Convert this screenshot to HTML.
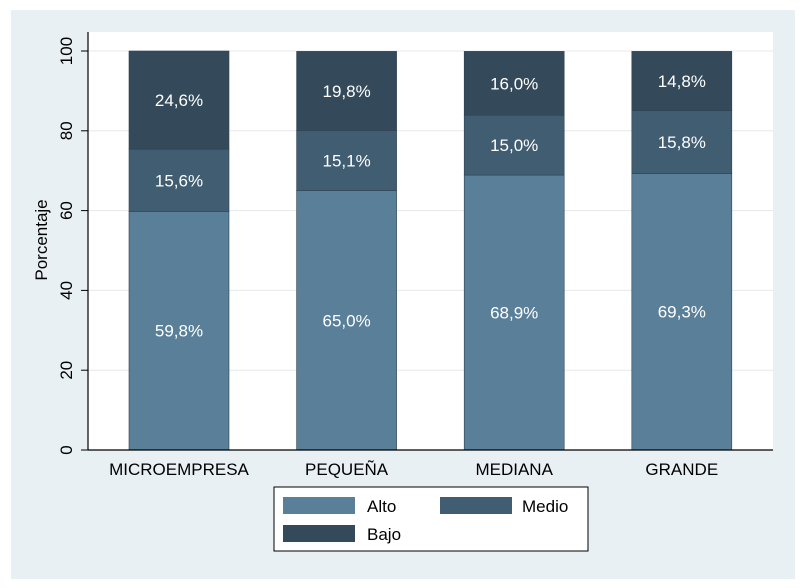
<!DOCTYPE html>
<html><head><meta charset="utf-8"><style>
body{margin:0;background:#fff;font-family:"Liberation Sans",sans-serif}
svg{display:block}
</style></head><body>
<svg width="803" height="588">
<rect x="11" y="10" width="784" height="569" fill="#e9f0f3"/>
<rect x="88" y="32" width="685" height="418" fill="#fff"/>
<g id="grid"></g>
<g id="bars"></g>
<g id="axes"></g>
<g>
<rect x="274" y="487" width="314" height="64" fill="#fff" stroke="#000" stroke-width="1"/>
<rect x="283" y="497" width="72" height="17" fill="#5a7f99"/>
<text x="367" y="512" font-size="17">Alto</text>
<rect x="440" y="497" width="72" height="17" fill="#415d72"/>
<text x="522" y="512" font-size="17">Medio</text>
<rect x="283" y="525" width="72" height="17" fill="#344a5a"/>
<text x="367" y="540" font-size="17">Bajo</text>
</g>
<text transform="translate(47,240) rotate(-90)" text-anchor="middle" font-size="17">Porcentaje</text>
</svg>
<script>
const categories=["MICROEMPRESA","PEQUEÑA","MEDIANA","GRANDE"];
const alto=[59.8,65.0,68.9,69.3];
const medio=[15.6,15.1,15.0,15.8];
const bajo=[24.6,19.8,16.0,14.8];
const yTicks=[0,20,40,60,80,100];
const NS="http://www.w3.org/2000/svg";
const y=v=>450-v*3.99;
const x=i=>129+i*167.6;
const bw=100;
function mk(t,a,p){const e=document.createElementNS(NS,t);for(const k in a)e.setAttribute(k,a[k]);p.appendChild(e);return e;}
const grid=document.getElementById('grid'),bars=document.getElementById('bars'),axes=document.getElementById('axes');
yTicks.forEach(t=>{
 if(t>0){const g=mk('line',{x1:88,x2:773,y1:y(t),y2:y(t),stroke:'#e6eaec'},grid);
 
 }
 const tk=mk('line',{x1:81,x2:88,y1:y(t),y2:y(t),stroke:'#000'},axes);
 
 
 const lb=mk('text',{transform:`translate(72,${y(t)}) rotate(-90)`,'text-anchor':'middle','font-size':17},axes);
 lb.textContent=t;
 
 
});
const fmt=v=>v.toFixed(1).replace('.',',')+'%';
categories.forEach((c,i)=>{
 const segs=[[alto[i],0,'#5a7f99','alto'],[medio[i],alto[i],'#415d72','medio'],[bajo[i],alto[i]+medio[i],'#344a5a','bajo']];
 segs.forEach(([v,b,col,n])=>{
  const r=mk('rect',{x:x(i),y:y(b+v),width:bw,height:y(b)-y(b+v),fill:col,stroke:'#2d4252','stroke-width':0.6},bars);
  
  
  const t=mk('text',{x:x(i)+bw/2,y:y(b+v/2)+6,'text-anchor':'middle','font-size':17,fill:'#fff'},bars);
  t.textContent=fmt(v);
  
  
 });
 const cl=mk('text',{x:x(i)+bw/2,y:475,'text-anchor':'middle','font-size':17},axes);
 cl.textContent=c;
 
 
});
const ya=mk('line',{x1:88,x2:88,y1:32,y2:450,stroke:'#000','stroke-width':1.2},axes);


const xa=mk('line',{x1:88,x2:773,y1:450,y2:450,stroke:'#000','stroke-width':1.2},axes);


</script>
</body></html>
